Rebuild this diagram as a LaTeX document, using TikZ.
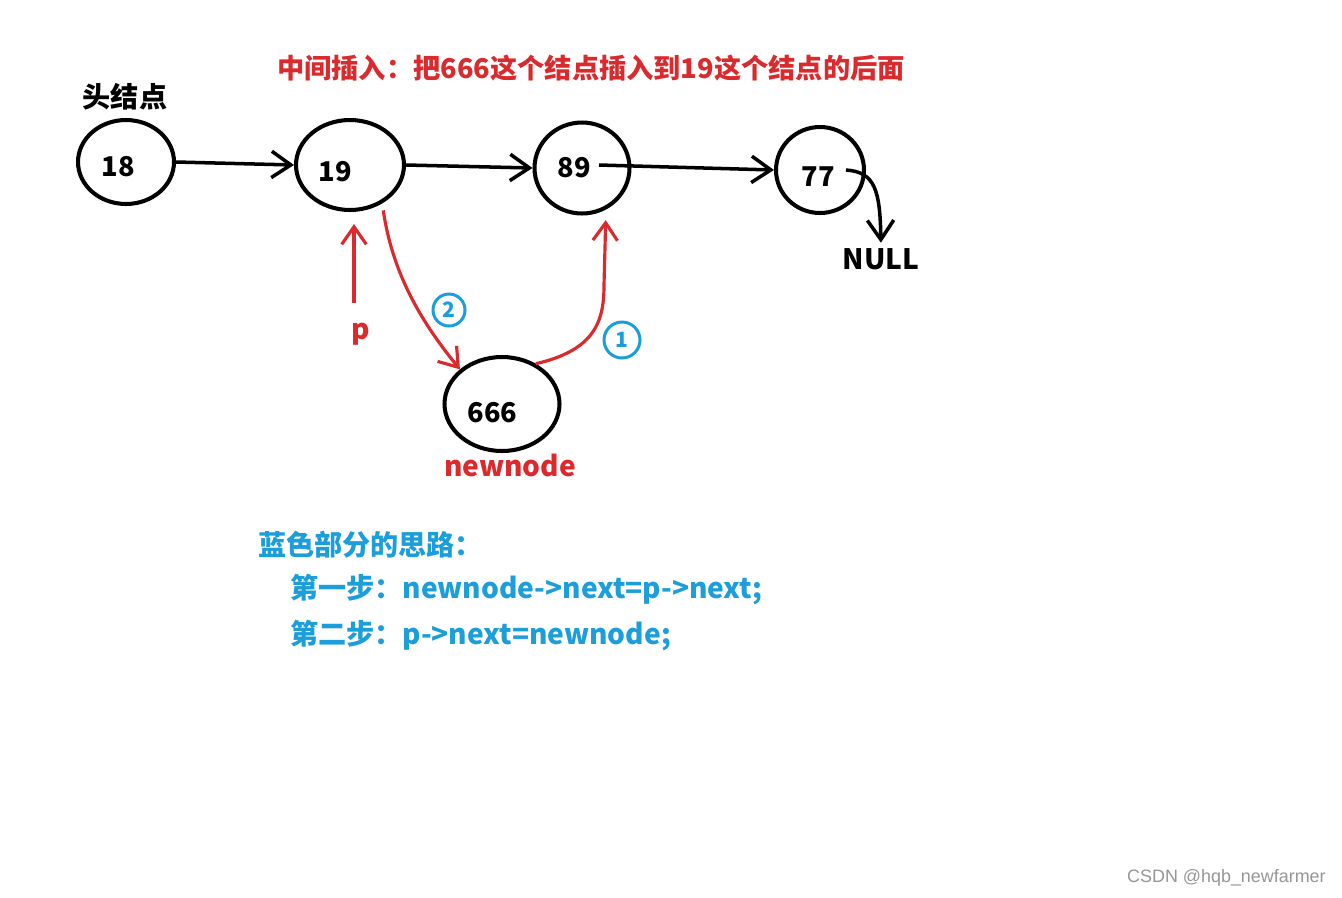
\documentclass[tikz,border=0pt]{standalone}
\usepackage{fontspec}
\setmainfont{Noto Sans CJK SC}
\newfontfamily\wmfont{Liberation Sans}
\usetikzlibrary{shapes.geometric,arrows.meta,calc}
\definecolor{myred}{RGB}{218,42,46}
\definecolor{myblue}{RGB}{28,158,218}
\definecolor{wmgray}{RGB}{150,150,150}
\tikzset{
  ln/.style={shape=ellipse, draw=black, line width=2.3pt, inner sep=0pt,
    font=\fontsize{15.5}{18}\selectfont\bfseries},
  lbl/.style={inner sep=1pt, font=\fontsize{16}{19}\selectfont\bfseries},
  redlbl/.style={lbl, text=myred},
  bluelbl/.style={inner sep=1pt, text=myblue, font=\fontsize{16}{19}\selectfont\bfseries},
  titlelbl/.style={inner sep=1pt, text=myred, font=\fontsize{15.5}{19}\selectfont\bfseries},
  circ/.style={shape=circle, draw=myblue, line width=1.7pt, text=myblue, inner sep=0pt,
    font=\fontsize{12}{14}\selectfont\bfseries},
  blk/.style={draw=black, line width=2pt, -{Straight Barb[length=11pt,width=15pt,line width=2pt]}},
  redarr/.style={draw=myred, line width=1.8pt, -{Straight Barb[length=10pt,width=14pt,line width=1.8pt]}}
}
\begin{document}
\begin{tikzpicture}[x=0.02cm,y=-0.02cm]
\useasboundingbox[fill=white] (0,0) rectangle (1342,897);
% list nodes
\node[ln, minimum width=1.92cm, minimum height=1.68cm, text height=17pt, text depth=0pt] (n18) at (126,162) {18\kern9pt};
\node[ln, minimum width=2.16cm, minimum height=1.80cm, text height=19pt, text depth=0pt] (n19) at (350,165) {19\kern17pt};
\node[ln, minimum width=1.90cm, minimum height=1.82cm] (n89) at (582,168) {89\kern9pt};
\node[ln, minimum width=1.76cm, minimum height=1.72cm, text height=19pt, text depth=0pt] (n77) at (820,170) {77\kern2pt};
\node[ln, minimum width=2.30cm, minimum height=1.88cm, text height=21pt, text depth=0pt] (n666) at (502,404) {666\kern11pt};
% labels
\node[titlelbl] (title) at (591,68) {中间插入：把666这个结点插入到19这个结点的后面};
\node[lbl] (head) at (125,97) {头结点};
\node[lbl] (null) at (881,259) {NULL};
\node[redlbl] (p) at (361,334) {p};
\node[redlbl] (nn) at (510,465) {newnode};
\node[bluelbl, anchor=west] (b1) at (256,545) {蓝色部分的思路：};
\node[bluelbl, anchor=west] (b2) at (288,590) {第一步：newnode->next=p->next;};
\node[bluelbl, anchor=west] (b3) at (288,636) {第二步：p->next=newnode;};
\node[inner sep=0pt, anchor=east, text=wmgray, font=\wmfont\fontsize{10.2}{12}\selectfont] (wm) at (1326,878) {CSDN @hqb\_newfarmer};
% circled step numbers
\node[circ, minimum size=0.64cm] (c2) at (449,310) {2};
\node[circ, minimum size=0.72cm] (c1) at (622,340) {1};
% black connectors
\draw[blk] (n18.east) -- (n19.west);
\draw[blk] (n19.east) -- (n89.west);
\draw[blk] ($(n89.center)+(17,-3)$) -- (n77.west);
\draw[blk, shorten >=2pt] ($(n77.center)+(26,0)$) .. controls (875,172) and (880,190) .. (null.north);
% red connectors
\draw[redarr] ($(p.north)+(-7,-18)$) -- ($(n19.south)+(4,12)$);
\draw[redarr, shorten <=4pt] (n19.-50) .. controls (392,270) and (418,318) .. (n666.north west);
\draw[redarr, shorten >=6pt] (n666.50) .. controls (596,350) and (604,320) .. (604,285) -- (n89.-60);
\end{tikzpicture}
\end{document}
